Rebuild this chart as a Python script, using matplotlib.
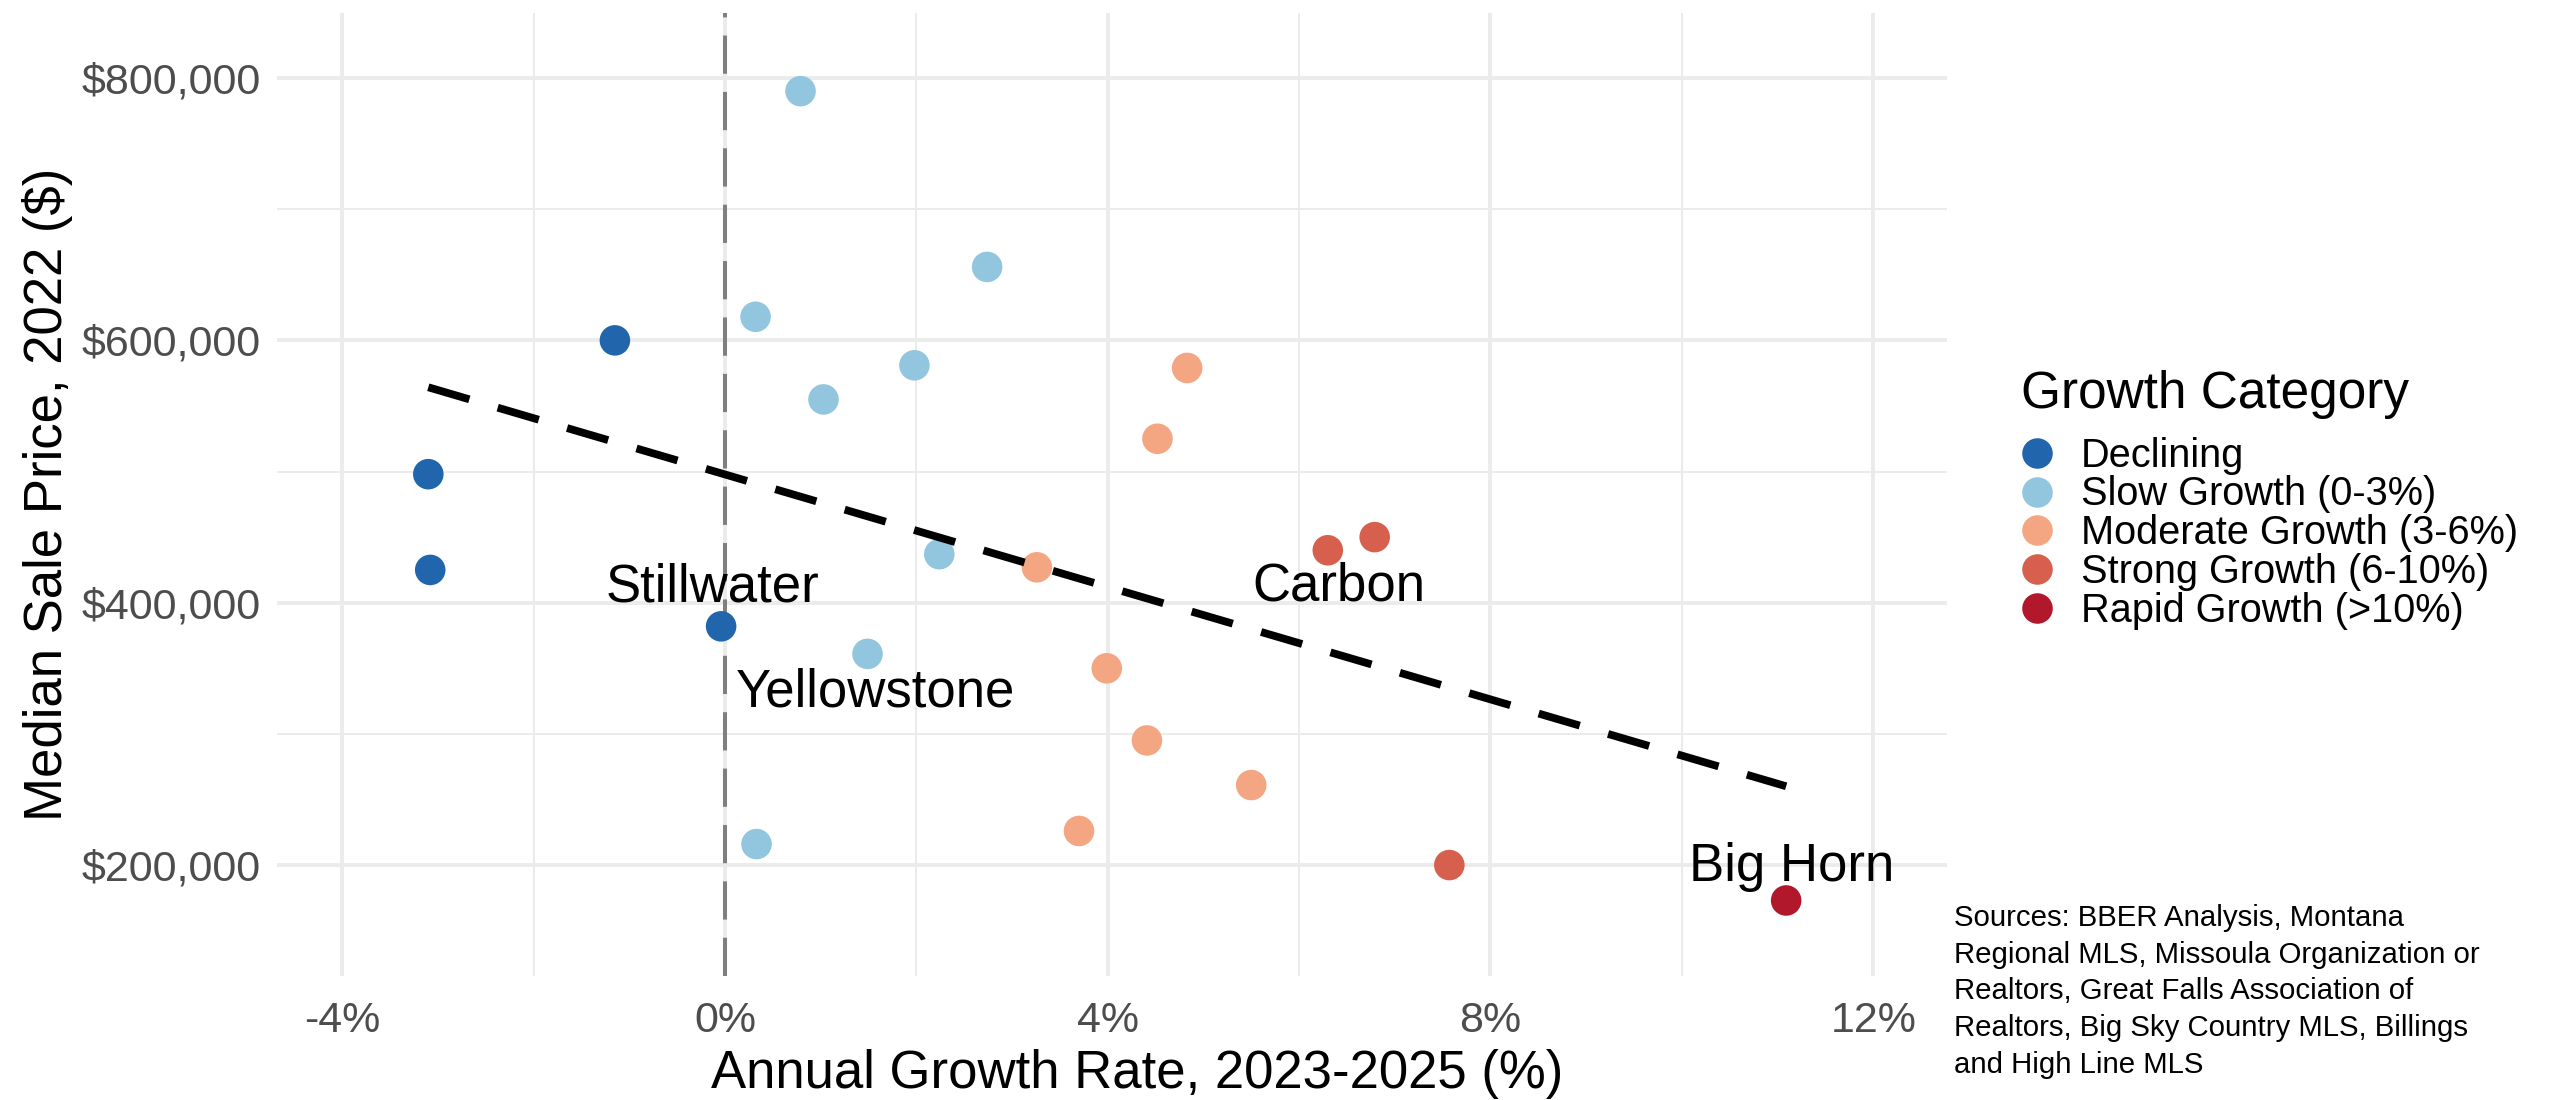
import matplotlib
matplotlib.use("Agg")
import matplotlib.pyplot as plt
from matplotlib.lines import Line2D
from matplotlib.ticker import FuncFormatter, MultipleLocator
import numpy as np

plt.rcParams["font.family"] = ["Liberation Sans", "DejaVu Sans"]

# growth categories and colours (RdBu)
categories = ["Declining", "Slow Growth (0-3%)", "Moderate Growth (3-6%)",
              "Strong Growth (6-10%)", "Rapid Growth (>10%)"]
cat_colors = ["#2166AC", "#92C5DE", "#F4A582", "#D6604D", "#B2182B"]

# annual growth rate (%) and median sale price ($) per county, by category
declining_x = [-3.10, -3.08, -1.15, -0.04]
declining_y = [498000, 425000, 600000, 382000]
slow_x = [0.79, 0.32, 2.74, 1.98, 1.03, 2.24, 1.49, 0.33]
slow_y = [790000, 618000, 656000, 581000, 555000, 437000, 361000, 216000]
moderate_x = [4.83, 4.52, 3.26, 3.99, 4.41, 5.50, 3.70]
moderate_y = [579000, 525000, 427000, 350000, 295000, 261000, 226000]
strong_x = [6.30, 6.79, 7.57]
strong_y = [440000, 450000, 200000]
rapid_x = [11.09]
rapid_y = [173000]

# labelled counties: name, growth, price, text offset (points)
label_names = ["Stillwater", "Yellowstone", "Carbon", "Big Horn"]
label_x = [-0.04, 1.49, 6.30, 11.09]
label_y = [382000, 361000, 440000, 173000]
label_off = [(-3, 14), (3, -14), (4, -13), (2, 12)]

caption = ("Sources: BBER Analysis, Montana\n"
           "Regional MLS, Missoula Organization or\n"
           "Realtors, Great Falls Association of\n"
           "Realtors, Big Sky Country MLS, Billings\n"
           "and High Line MLS")

xs_all = [declining_x, slow_x, moderate_x, strong_x, rapid_x]
ys_all = [declining_y, slow_y, moderate_y, strong_y, rapid_y]

fig = plt.figure(figsize=(12.77, 5.5), dpi=200)
ax = fig.add_axes([0.1085, 0.1127, 0.6538, 0.8755])

# grid like theme_minimal
ax.set_xlim(-4.68, 12.77)
ax.set_ylim(115400, 849600)
ax.xaxis.set_major_locator(MultipleLocator(4))
ax.xaxis.set_minor_locator(MultipleLocator(2))
ax.yaxis.set_major_locator(MultipleLocator(200000))
ax.yaxis.set_minor_locator(MultipleLocator(100000))
ax.grid(True, which="major", color="#EBEBEB", linewidth=1.4)
ax.grid(True, which="minor", color="#EBEBEB", linewidth=0.7)
ax.set_axisbelow(True)
for s in ax.spines.values():
    s.set_visible(False)
ax.tick_params(which="both", length=0)
ax.tick_params(axis="both", labelsize=15.5, labelcolor="#4D4D4D")
ax.tick_params(axis="x", pad=9)
ax.tick_params(axis="y", pad=6)
ax.xaxis.set_major_formatter(FuncFormatter(lambda v, p: f"{v:.0f}%"))
ax.yaxis.set_major_formatter(FuncFormatter(lambda v, p: f"${v:,.0f}"))

# zero line
ax.axvline(0, color="#7F7F7F", linewidth=1.45, dashes=(9.5, 4.5), zorder=1)

for xs, ys, clr in zip(xs_all, ys_all, cat_colors):
    ax.scatter(xs, ys, s=121, color=clr, edgecolor="none", zorder=3)

# linear trend over all counties
allx = np.concatenate([np.array(v, float) for v in xs_all])
ally = np.concatenate([np.array(v, float) for v in ys_all])
k, b = np.polyfit(allx, ally, 1)
fx = np.array([allx.min(), allx.max()])
ax.plot(fx, k * fx + b, color="black", linewidth=2.8, dashes=(5.5, 3.8), zorder=4)

for nm, lx, ly, off in zip(label_names, label_x, label_y, label_off):
    ax.annotate(nm, (lx, ly), xytext=off, textcoords="offset points",
                ha="center", va="center", fontsize=19, color="black", zorder=5)

ax.set_xlabel("Annual Growth Rate, 2023-2025 (%)", fontsize=19)
ax.xaxis.label.set_va("baseline")
ax.xaxis.set_label_coords(0.515, -0.1163)
ax.set_ylabel("Median Sale Price, 2022 ($)", fontsize=19)
ax.yaxis.set_label_coords(-0.122, 0.5)

# legend: title as separate text, entries via legend
fig.text(0.7913, 0.6291, "Growth Category", fontsize=18.5, va="baseline", ha="left")
handles = [Line2D([0], [0], marker="o", linestyle="none", markersize=11,
                  markerfacecolor=c, markeredgecolor="none") for c in cat_colors]
fig.legend(handles, categories, loc="upper left", bbox_to_anchor=(0.7898, 0.603),
           frameon=False, fontsize=14.3, labelspacing=0.02, handletextpad=0.6,
           borderaxespad=0, borderpad=0, handlelength=1.0)

fig.text(0.765, 0.178, caption, fontsize=10.6, va="top", ha="left", linespacing=1.39)

fig.savefig("out.png", dpi=200)
